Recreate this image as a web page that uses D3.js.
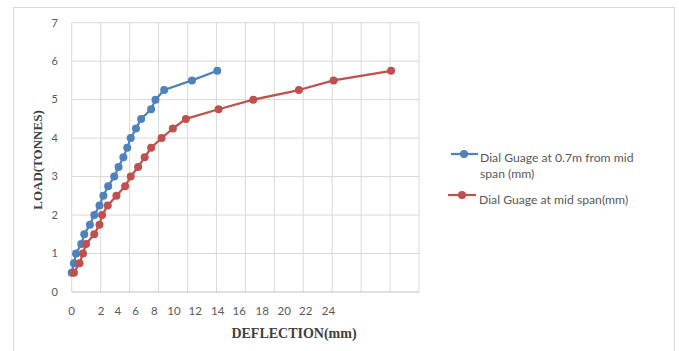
<!DOCTYPE html>
<html>
<head>
<meta charset="utf-8">
<script src="https://cdn.jsdelivr.net/npm/d3@7"></script>
<style>
  html, body { margin: 0; padding: 0; background: #fff; }
  svg { display: block; }
</style>
</head>
<body>
<svg id="chart" width="679" height="351"></svg>
<script>
// ---- data ----
const loads = [0.5, 0.75, 1.0, 1.25, 1.5, 1.75, 2.0, 2.25, 2.5, 2.75, 3.0, 3.25, 3.5, 3.75, 4.0, 4.25, 4.5, 4.75, 5.0, 5.25, 5.5, 5.75];
const deflection07m = [0, 0.15, 0.3, 0.66, 0.87, 1.26, 1.56, 1.92, 2.19, 2.52, 2.94, 3.24, 3.57, 3.84, 4.08, 4.44, 4.8, 5.49, 5.79, 6.39, 8.31, 10.06];
const deflectionMid = [0.15, 0.54, 0.78, 0.99, 1.56, 1.92, 2.1, 2.49, 3.09, 3.69, 4.08, 4.59, 5.04, 5.49, 6.21, 6.99, 7.89, 10.15, 12.55, 15.7, 18.1, 22.07];
const seriesNames = ["Dial Guage at 0.7m from mid span (mm)", "Dial Guage at mid span(mm)"];
const xTickLabels = ["0", "2", "4", "6", "8", "10", "12", "14", "16", "18", "20", "22", "24"];
const xTickLabelAt = [0, 2.03, 3.18, 4.42, 5.71, 7.07, 8.54, 10.09, 11.58, 13.17, 14.69, 16.17, 17.74];
const xGrid = [0, 2, 4, 6, 8, 10, 12, 14, 16, 18, 20, 22, 24];
const yTicks = [0, 1, 2, 3, 4, 5, 6, 7];

// ---- layout ----
const svg = d3.select("#chart");
const m = { left: 71.7, right: 419, top: 22.7, bottom: 292 };
const x = d3.scaleLinear().domain([0, 24]).range([m.left, m.right]);
const y = d3.scaleLinear().domain([0, 7]).range([m.bottom, m.top]);
const colors = ["#4F81BD", "#C0504D"];
const labelFont = "Lato, 'Open Sans', sans-serif";
const titleFont = "'Liberation Serif', 'Times New Roman', serif";

// outer frame
svg.append("rect").attr("x", 13.5).attr("y", 7.5).attr("width", 661).attr("height", 350)
  .attr("fill", "#fff").attr("stroke", "#d9d9d9").attr("stroke-width", 1);

// gridlines
const g = svg.append("g");
g.selectAll(".vg").data(xGrid).enter().append("line")
  .attr("x1", d => x(d)).attr("x2", d => x(d))
  .attr("y1", m.top).attr("y2", m.bottom)
  .attr("stroke", "#d9d9d9").attr("stroke-width", 1);
g.selectAll(".hg").data(yTicks).enter().append("line")
  .attr("x1", m.left).attr("x2", m.right)
  .attr("y1", d => y(d)).attr("y2", d => y(d))
  .attr("stroke", d => d === 0 ? "#bfbfbf" : "#d9d9d9").attr("stroke-width", 1);

// y tick labels
svg.selectAll(".yt").data(yTicks).enter().append("text")
  .attr("x", 58).attr("y", d => y(d)).attr("dy", "0.35em")
  .attr("text-anchor", "end")
  .attr("font-family", labelFont).attr("font-size", 11).attr("fill", "#595959")
  .text(d => d);

// x tick labels
svg.selectAll(".xt").data(xTickLabels).enter().append("text")
  .attr("x", (d, i) => x(xTickLabelAt[i])).attr("y", 315)
  .attr("text-anchor", "middle")
  .attr("font-family", labelFont).attr("font-size", 11.5).attr("fill", "#595959")
  .text(d => d);

// axis titles
svg.append("text")
  .attr("transform", "translate(42,160) rotate(-90)")
  .attr("text-anchor", "middle")
  .attr("font-family", titleFont).attr("font-weight", "bold").attr("font-size", 13)
  .attr("fill", "#404040")
  .text("LOAD(TONNES)");
svg.append("text")
  .attr("x", 294).attr("y", 338)
  .attr("text-anchor", "middle")
  .attr("font-family", titleFont).attr("font-weight", "bold").attr("font-size", 14)
  .attr("fill", "#404040")
  .text("DEFLECTION(mm)");

// series
const series = [deflection07m, deflectionMid];
const line = d3.line().x(d => x(d[0])).y(d => y(d[1]));
series.forEach((s, k) => {
  const pts = s.map((v, i) => [v, loads[i]]);
  svg.append("path").datum(pts).attr("d", line)
    .attr("fill", "none").attr("stroke", colors[k]).attr("stroke-width", 2.25)
    .attr("stroke-linejoin", "round");
  svg.selectAll(".pt" + k).data(pts).enter().append("circle")
    .attr("cx", d => x(d[0])).attr("cy", d => y(d[1])).attr("r", 4)
    .attr("fill", colors[k]);
});

// legend
const legend = [
  { lx1: 451, lx2: 478, mx: 464, my: 154, tx: 480, lines: ["Dial Guage at 0.7m from mid", "span (mm)"], ty: 158 },
  { lx1: 448, lx2: 476, mx: 462, my: 195, tx: 479, lines: ["Dial Guage at mid span(mm)"], ty: 200 }
];
legend.forEach((L, k) => {
  svg.append("line").attr("x1", L.lx1).attr("x2", L.lx2).attr("y1", L.my).attr("y2", L.my)
    .attr("stroke", colors[k]).attr("stroke-width", 2.25);
  svg.append("circle").attr("cx", L.mx).attr("cy", L.my).attr("r", 4).attr("fill", colors[k]);
  const t = svg.append("text").attr("x", L.tx).attr("y", L.ty)
    .attr("font-family", labelFont).attr("font-size", 12.2).attr("fill", "#595959");
  L.lines.forEach((ln, j) => {
    t.append("tspan").attr("x", L.tx).attr("dy", j === 0 ? "0.35em" : 16).text(ln);
  });
});
</script>
</body>
</html>
